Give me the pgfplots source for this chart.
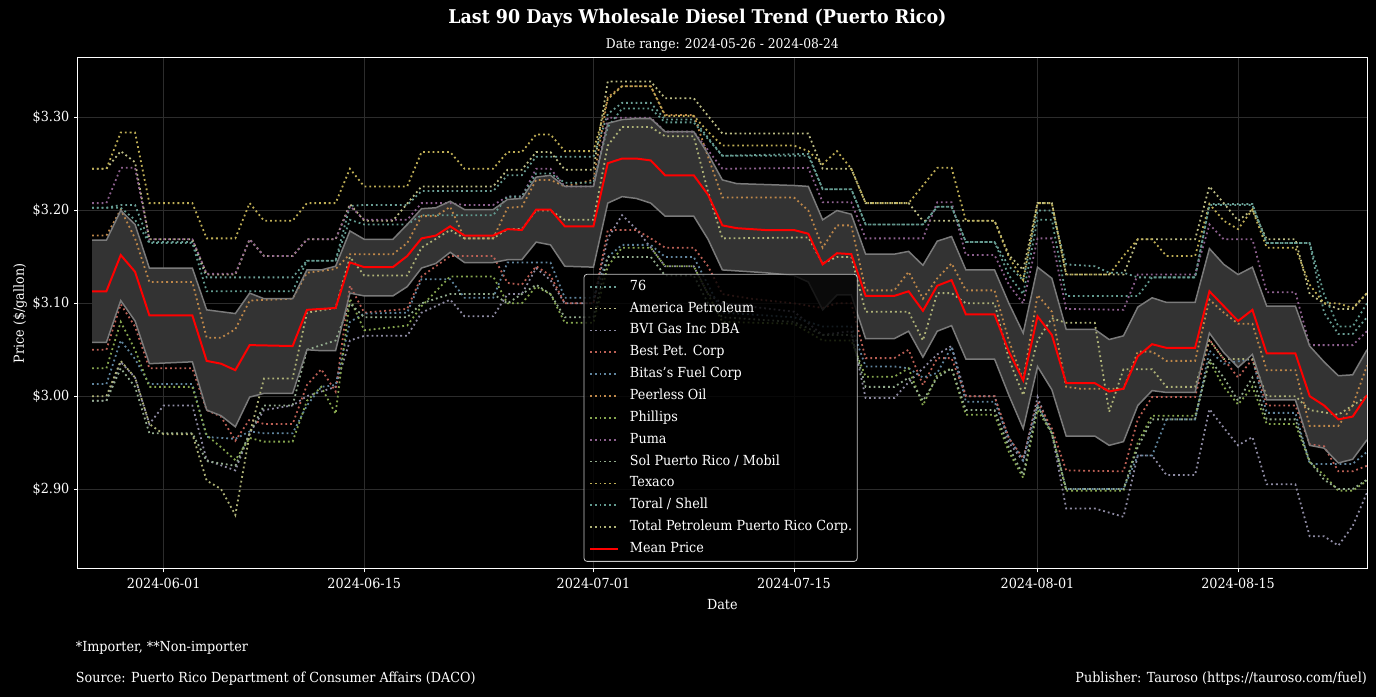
\documentclass[border=0pt]{standalone}
\usepackage{fontspec}
\setmainfont{DejaVu Serif}[FakeStretch=0.92]
\usepackage{pgfplots}
\pgfplotsset{compat=1.18}
\usepgfplotslibrary{fillbetween}

\definecolor{gridc}{HTML}{2C2C2C}
\definecolor{bandfill}{HTML}{333333}
\definecolor{bandedge}{HTML}{7A7A7A}
\definecolor{c76}{HTML}{6A9E95}
\definecolor{cAmer}{HTML}{BDBD85}
\definecolor{cBVI}{HTML}{8E8BA3}
\definecolor{cBest}{HTML}{BC6055}
\definecolor{cBitas}{HTML}{60859E}
\definecolor{cPeer}{HTML}{BE8749}
\definecolor{cPhil}{HTML}{86A64F}
\definecolor{cPuma}{HTML}{8D608E}
\definecolor{cSol}{HTML}{93AC8E}
\definecolor{cTex}{HTML}{BFAE55}
\definecolor{cToral}{HTML}{629A8F}
\definecolor{cTotal}{HTML}{AEB277}

\newcommand\tfont{\fontsize{13.9bp}{16bp}\selectfont}
\tikzset{dots/.style={line width=1.8bp, dash pattern=on 1.8bp off 3bp}}

\begin{document}
\pagecolor{black}
\begin{tikzpicture}[x=1bp,y=1bp]
\path (0,0) rectangle (1376,698);
\begin{axis}[
  at={(75bp,128bp)}, anchor=south west,
  width=1292bp, height=512bp, scale only axis,
  set layers,
  xmin=0, xmax=90, ymin=2.814, ymax=3.3645,
  axis line style={white, line width=1bp},
  grid=major, major grid style={gridc, line width=0.8bp},
  tick align=outside, xtick pos=lower, ytick pos=left,
  major tick length=3.5bp,
  tick style={white, line width=0.8bp},
  xtick={6,20,36,50,67,81},
  xticklabels={2024-06-01,2024-06-15,2024-07-01,2024-07-15,2024-08-01,2024-08-15},
  ytick={2.9,3.0,3.1,3.2,3.3},
  yticklabels={\$2.90,\$3.00,\$3.10,\$3.20,\$3.30},
  tick label style={text=white, font=\tfont},
  xticklabel style={yshift=-2.5bp},
  yticklabel style={xshift=-1.5bp},
  legend cell align=left,
  legend style={at={(0.3924,0.0137)}, anchor=south west,
    fill=black, fill opacity=0.8, text opacity=1, draw opacity=1,
    draw=white!78!black, line width=0.8bp, rounded corners=3bp,
    font=\tfont, text=white, inner xsep=5bp, inner ysep=3bp, row sep=3bp,
    nodes={inner xsep=0bp, inner ysep=2.5bp, text height=10.5bp, text depth=3.4bp},
    /tikz/every odd column/.append style={column sep=11bp}},
  legend image code/.code={\draw[#1] (0bp,0bp) -- (28bp,0bp);},
]
\addplot[dots, c76] coordinates {(1,3.203)(2,3.203)(3,3.206)(4,3.206)(5,3.166)(8,3.166)(9,3.128)(12,3.128)(15,3.128)(16,3.146)(18,3.146)(19,3.205)(20,3.206)(23,3.206)(24,3.221)(29,3.221)(30,3.238)(31,3.238)(32,3.258)(36,3.258)(37,3.304)(38,3.316)(40,3.316)(41,3.298)(43,3.298)(45,3.259)(51,3.261)(52,3.223)(54,3.223)(55,3.185)(59,3.185)(60,3.204)(61,3.204)(62,3.166)(64,3.166)(65,3.140)(66,3.125)(67,3.200)(68,3.200)(69,3.142)(71,3.140)(72,3.133)(73,3.133)(74,3.128)(78,3.128)(79,3.207)(82,3.207)(83,3.165)(86,3.165)(87,3.090)(88,3.067)(89,3.067)(90,3.085)};
\addlegendentry{76}
\addplot[dots, cAmer] coordinates {(1,3.245)(2,3.245)(3,3.264)(4,3.252)(5,3.169)(8,3.169)(9,3.131)(11,3.131)(12,3.169)(13,3.151)(15,3.151)(16,3.169)(18,3.169)(19,3.207)(20,3.189)(22,3.189)(24,3.226)(29,3.226)(30,3.244)(31,3.244)(32,3.263)(33,3.263)(34,3.244)(36,3.244)(37,3.339)(40,3.339)(41,3.321)(43,3.321)(44,3.302)(45,3.283)(51,3.283)(52,3.245)(54,3.245)(55,3.208)(58,3.208)(59,3.189)(64,3.189)(65,3.152)(66,3.136)(67,3.208)(68,3.208)(69,3.131)(73,3.131)(74,3.169)(78,3.169)(79,3.226)(80,3.208)(81,3.189)(82,3.201)(83,3.169)(85,3.169)(86,3.110)(87,3.100)(88,3.094)(89,3.094)(90,3.111)};
\addlegendentry{America Petroleum}
\addplot[dots, cBVI] coordinates {(1,2.995)(2,2.995)(3,3.037)(4,3.020)(5,2.970)(6,2.990)(8,2.990)(9,2.931)(11,2.920)(12,2.960)(13,2.985)(15,2.990)(16,3.000)(18,3.010)(19,3.060)(20,3.065)(23,3.065)(24,3.090)(26,3.104)(27,3.086)(29,3.086)(30,3.110)(31,3.110)(32,3.138)(33,3.125)(34,3.100)(36,3.100)(37,3.170)(38,3.195)(39,3.180)(40,3.160)(41,3.140)(43,3.140)(44,3.110)(45,3.100)(50,3.091)(52,3.066)(54,3.070)(55,2.998)(57,2.998)(58,3.015)(59,3.030)(60,3.045)(61,3.054)(62,3.000)(64,3.000)(65,2.950)(66,2.930)(67,2.999)(68,2.960)(69,2.879)(71,2.879)(73,2.870)(74,2.936)(75,2.936)(76,2.915)(78,2.915)(79,2.986)(80,2.966)(81,2.947)(82,2.956)(83,2.905)(85,2.905)(86,2.849)(87,2.849)(88,2.839)(89,2.860)(90,2.896)};
\addlegendentry{BVI Gas Inc DBA}
\addplot[dots, cBest] coordinates {(1,3.050)(2,3.050)(3,3.099)(4,3.075)(5,3.030)(8,3.030)(9,2.985)(10,2.978)(11,2.952)(12,2.975)(13,2.970)(15,2.970)(16,3.012)(17,3.029)(18,3.005)(19,3.119)(20,3.090)(23,3.094)(24,3.129)(26,3.151)(29,3.151)(30,3.122)(31,3.120)(32,3.140)(33,3.130)(34,3.100)(36,3.100)(37,3.179)(39,3.179)(40,3.170)(41,3.160)(43,3.160)(44,3.140)(45,3.110)(47,3.105)(50,3.100)(52,3.095)(53,3.100)(54,3.100)(55,3.041)(57,3.041)(58,3.050)(59,3.012)(60,3.041)(61,3.041)(62,3.000)(64,3.000)(65,2.955)(66,2.933)(67,2.994)(68,2.965)(69,2.920)(73,2.919)(74,2.975)(75,2.999)(78,2.999)(79,3.061)(80,3.040)(81,3.020)(82,3.040)(83,2.990)(85,2.990)(86,2.948)(87,2.946)(88,2.919)(89,2.919)(90,2.925)};
\addlegendentry{Best Pet. Corp}
\addplot[dots, cBitas] coordinates {(1,3.013)(2,3.013)(3,3.060)(4,3.040)(5,3.013)(8,3.013)(9,2.956)(11,2.954)(12,2.962)(13,2.960)(15,2.960)(16,2.990)(17,3.010)(18,3.012)(19,3.080)(20,3.089)(23,3.090)(24,3.126)(26,3.126)(27,3.106)(29,3.106)(30,3.144)(33,3.144)(34,3.106)(36,3.106)(37,3.150)(38,3.163)(40,3.163)(41,3.150)(43,3.150)(44,3.120)(45,3.090)(50,3.085)(52,3.075)(54,3.075)(55,3.032)(57,3.032)(58,3.030)(59,3.020)(60,3.025)(61,3.053)(62,2.994)(64,2.994)(65,2.955)(66,2.931)(67,2.990)(68,2.960)(69,2.900)(73,2.900)(74,2.936)(75,2.936)(76,2.975)(78,2.975)(79,3.049)(80,3.035)(82,3.040)(83,2.982)(85,2.982)(86,2.927)(89,2.927)(90,2.940)};
\addlegendentry{Bitas's Fuel Corp}
\addplot[dots, cPeer] coordinates {(1,3.173)(2,3.173)(3,3.201)(4,3.170)(5,3.123)(8,3.123)(9,3.063)(10,3.063)(11,3.072)(12,3.103)(15,3.105)(16,3.133)(18,3.137)(19,3.153)(22,3.153)(23,3.165)(24,3.194)(25,3.194)(26,3.204)(27,3.170)(29,3.170)(30,3.203)(31,3.204)(32,3.233)(33,3.233)(34,3.226)(36,3.233)(37,3.322)(38,3.334)(40,3.334)(41,3.303)(43,3.303)(44,3.258)(45,3.214)(50,3.214)(51,3.200)(52,3.160)(53,3.184)(54,3.184)(55,3.114)(57,3.114)(58,3.134)(59,3.105)(60,3.127)(61,3.143)(62,3.114)(64,3.114)(65,3.060)(66,3.017)(67,3.109)(68,3.091)(69,3.010)(70,3.008)(73,3.008)(74,3.048)(75,3.048)(76,3.038)(78,3.038)(79,3.104)(80,3.090)(81,3.078)(82,3.078)(83,3.028)(85,3.028)(86,2.968)(88,2.968)(89,2.990)(90,3.033)};
\addlegendentry{Peerless Oil}
\addplot[dots, cPhil] coordinates {(1,3.030)(2,3.030)(3,3.080)(4,3.050)(5,3.010)(8,3.010)(9,2.958)(10,2.945)(11,2.931)(12,2.955)(13,2.951)(15,2.951)(16,2.995)(17,3.010)(18,2.981)(19,3.105)(20,3.071)(23,3.076)(24,3.097)(26,3.129)(29,3.129)(30,3.100)(31,3.100)(32,3.118)(33,3.110)(34,3.079)(36,3.079)(37,3.140)(38,3.160)(40,3.160)(41,3.140)(43,3.140)(44,3.110)(45,3.080)(50,3.078)(52,3.060)(54,3.060)(55,3.021)(57,3.021)(58,3.030)(59,2.990)(60,3.023)(61,3.030)(62,2.980)(64,2.980)(65,2.940)(66,2.912)(67,2.985)(68,2.960)(69,2.898)(73,2.898)(74,2.950)(75,2.979)(78,2.979)(79,3.038)(80,3.010)(81,2.991)(82,3.010)(83,2.970)(85,2.970)(86,2.929)(87,2.915)(88,2.898)(89,2.898)(90,2.909)};
\addlegendentry{Phillips}
\addplot[dots, cPuma] coordinates {(1,3.208)(2,3.208)(3,3.246)(4,3.246)(5,3.169)(8,3.169)(9,3.132)(11,3.132)(12,3.169)(13,3.151)(15,3.151)(16,3.169)(18,3.169)(19,3.205)(20,3.190)(23,3.190)(24,3.208)(26,3.208)(27,3.206)(29,3.206)(30,3.215)(31,3.215)(32,3.245)(33,3.245)(34,3.226)(36,3.226)(37,3.300)(40,3.300)(41,3.285)(43,3.285)(44,3.265)(45,3.245)(51,3.246)(52,3.209)(54,3.209)(55,3.170)(59,3.170)(60,3.209)(61,3.209)(62,3.152)(64,3.152)(65,3.120)(66,3.100)(67,3.170)(68,3.170)(69,3.094)(73,3.093)(74,3.131)(78,3.131)(79,3.185)(80,3.169)(82,3.169)(83,3.112)(85,3.112)(86,3.055)(89,3.055)(90,3.070)};
\addlegendentry{Puma}
\addplot[dots, cSol] coordinates {(1,2.995)(2,2.995)(3,3.030)(4,3.010)(5,2.960)(8,2.960)(9,2.930)(11,2.925)(12,2.960)(13,2.990)(15,2.990)(16,3.050)(18,3.060)(19,3.100)(20,3.085)(23,3.085)(24,3.100)(26,3.110)(29,3.110)(30,3.100)(32,3.120)(33,3.110)(34,3.085)(36,3.085)(37,3.150)(40,3.150)(41,3.130)(43,3.130)(44,3.100)(45,3.085)(50,3.080)(52,3.066)(54,3.066)(55,3.010)(57,3.010)(58,3.020)(59,2.995)(60,3.020)(61,3.030)(62,2.985)(64,2.985)(65,2.945)(66,2.915)(67,2.990)(68,2.960)(69,2.900)(73,2.900)(74,2.945)(75,2.975)(78,2.975)(79,3.040)(80,3.020)(81,2.995)(82,3.020)(83,2.975)(85,2.975)(86,2.930)(87,2.910)(88,2.900)(89,2.900)(90,2.910)};
\addlegendentry{Sol Puerto Rico / Mobil}
\addplot[dots, cTex] coordinates {(1,3.245)(2,3.245)(3,3.284)(4,3.284)(5,3.208)(8,3.208)(9,3.170)(11,3.170)(12,3.208)(13,3.189)(15,3.189)(16,3.208)(18,3.208)(19,3.245)(20,3.226)(23,3.226)(24,3.263)(26,3.263)(27,3.245)(29,3.245)(30,3.263)(31,3.263)(32,3.282)(33,3.282)(34,3.264)(36,3.264)(37,3.320)(38,3.334)(40,3.334)(41,3.302)(43,3.302)(44,3.285)(45,3.270)(50,3.270)(51,3.264)(52,3.250)(53,3.264)(54,3.245)(55,3.208)(58,3.208)(59,3.227)(60,3.246)(61,3.246)(62,3.189)(64,3.189)(65,3.150)(66,3.125)(67,3.208)(68,3.208)(69,3.131)(72,3.131)(73,3.151)(74,3.169)(75,3.169)(76,3.151)(78,3.151)(79,3.207)(80,3.189)(81,3.180)(82,3.201)(83,3.160)(85,3.160)(86,3.120)(87,3.100)(88,3.100)(89,3.095)(90,3.111)};
\addlegendentry{Texaco}
\addplot[dots, cToral] coordinates {(1,3.203)(2,3.203)(3,3.203)(4,3.190)(5,3.165)(8,3.165)(9,3.113)(15,3.113)(16,3.146)(18,3.146)(19,3.190)(20,3.185)(23,3.185)(24,3.195)(29,3.195)(30,3.215)(31,3.215)(32,3.240)(33,3.240)(34,3.230)(36,3.230)(37,3.290)(38,3.310)(40,3.310)(41,3.295)(43,3.295)(45,3.259)(51,3.259)(52,3.223)(54,3.223)(55,3.185)(59,3.185)(60,3.204)(61,3.204)(62,3.166)(64,3.166)(65,3.130)(66,3.110)(67,3.190)(68,3.190)(69,3.108)(74,3.108)(75,3.128)(78,3.128)(79,3.206)(82,3.206)(83,3.165)(86,3.165)(87,3.110)(88,3.075)(89,3.075)(90,3.100)};
\addlegendentry{Toral / Shell}
\addplot[dots, cTotal] coordinates {(1,3.000)(2,3.000)(3,3.038)(4,3.020)(5,2.970)(6,2.959)(8,2.959)(9,2.909)(10,2.900)(11,2.872)(12,2.959)(13,3.019)(15,3.019)(16,3.090)(18,3.095)(19,3.150)(20,3.130)(23,3.130)(24,3.160)(26,3.179)(27,3.170)(29,3.170)(30,3.180)(31,3.180)(32,3.200)(33,3.200)(34,3.190)(36,3.190)(37,3.270)(38,3.290)(40,3.290)(41,3.280)(43,3.280)(44,3.220)(45,3.170)(51,3.171)(52,3.143)(53,3.150)(54,3.150)(55,3.091)(58,3.091)(59,3.060)(60,3.111)(61,3.111)(62,3.100)(64,3.100)(65,3.040)(66,3.001)(67,3.060)(68,3.084)(69,3.079)(71,3.079)(72,2.983)(73,3.029)(75,3.029)(76,3.010)(78,3.010)(79,3.060)(80,3.040)(82,3.040)(83,3.000)(85,3.000)(86,2.985)(88,2.980)(89,2.990)(90,3.000)};
\addlegendentry{Total Petroleum Puerto Rico Corp.}
\addplot[name path=up, bandedge, line width=1.5bp, forget plot] coordinates {(1,3.168)(2,3.168)(3,3.200)(4,3.185)(5,3.138)(8,3.138)(9,3.093)(10,3.091)(11,3.089)(12,3.111)(13,3.105)(15,3.105)(16,3.136)(17,3.136)(18,3.140)(19,3.178)(20,3.169)(22,3.169)(23,3.185)(24,3.202)(25,3.203)(26,3.210)(27,3.201)(29,3.201)(30,3.212)(31,3.213)(32,3.236)(33,3.238)(34,3.226)(36,3.226)(37,3.294)(38,3.298)(39,3.299)(40,3.299)(41,3.285)(43,3.285)(44,3.261)(45,3.233)(46,3.229)(48,3.228)(50,3.227)(51,3.226)(52,3.190)(53,3.200)(54,3.196)(55,3.153)(57,3.153)(58,3.156)(59,3.141)(60,3.167)(61,3.172)(62,3.136)(64,3.136)(65,3.100)(66,3.068)(67,3.139)(68,3.127)(69,3.072)(71,3.072)(72,3.061)(73,3.065)(74,3.096)(75,3.106)(76,3.101)(78,3.101)(79,3.159)(80,3.142)(81,3.131)(82,3.139)(83,3.097)(85,3.097)(86,3.054)(87,3.037)(88,3.022)(89,3.023)(90,3.050)};
\addplot[name path=lo, bandedge, line width=1.5bp, forget plot] coordinates {(1,3.058)(2,3.058)(3,3.103)(4,3.081)(5,3.035)(8,3.037)(9,2.985)(10,2.979)(11,2.967)(12,2.999)(13,3.003)(15,3.003)(16,3.050)(17,3.049)(18,3.049)(19,3.111)(20,3.108)(22,3.108)(23,3.118)(24,3.138)(25,3.143)(26,3.155)(27,3.144)(29,3.144)(30,3.147)(31,3.147)(32,3.166)(33,3.163)(34,3.140)(36,3.139)(37,3.208)(38,3.215)(39,3.213)(40,3.208)(41,3.194)(43,3.194)(44,3.169)(45,3.136)(46,3.135)(48,3.133)(50,3.130)(51,3.123)(52,3.093)(53,3.109)(54,3.109)(55,3.062)(57,3.062)(58,3.070)(59,3.042)(60,3.070)(61,3.076)(62,3.040)(64,3.040)(65,3.001)(66,2.965)(67,3.032)(68,3.007)(69,2.957)(71,2.957)(72,2.947)(73,2.951)(74,2.990)(75,3.006)(76,3.004)(78,3.004)(79,3.068)(80,3.047)(81,3.031)(82,3.045)(83,2.996)(85,2.996)(86,2.947)(87,2.944)(88,2.928)(89,2.932)(90,2.953)};
\addplot[bandfill, forget plot] fill between[of=up and lo];
\addplot[red, line width=2bp] coordinates {(1,3.113)(2,3.113)(3,3.152)(4,3.134)(5,3.087)(8,3.087)(9,3.038)(10,3.035)(11,3.028)(12,3.055)(15,3.054)(16,3.093)(17,3.094)(18,3.095)(19,3.144)(20,3.139)(22,3.139)(23,3.151)(24,3.170)(25,3.173)(26,3.183)(27,3.173)(29,3.173)(30,3.180)(31,3.179)(32,3.201)(33,3.201)(34,3.183)(36,3.183)(37,3.251)(38,3.256)(39,3.256)(40,3.254)(41,3.238)(43,3.238)(44,3.217)(45,3.184)(46,3.181)(48,3.179)(50,3.179)(51,3.175)(52,3.142)(53,3.154)(54,3.153)(55,3.108)(57,3.108)(58,3.113)(59,3.092)(60,3.119)(61,3.125)(62,3.088)(64,3.088)(65,3.048)(66,3.017)(67,3.086)(68,3.066)(69,3.014)(71,3.014)(72,3.005)(73,3.008)(74,3.043)(75,3.056)(76,3.052)(78,3.052)(79,3.113)(80,3.097)(81,3.081)(82,3.093)(83,3.046)(85,3.046)(86,3.000)(87,2.990)(88,2.975)(89,2.978)(90,3.001)};
\addlegendentry{Mean Price}
\end{axis}
\node[anchor=base, text=white, font=\fontsize{19bp}{22bp}\selectfont\bfseries] at (696,674) {Last 90 Days Wholesale Diesel Trend (Puerto Rico)};
\node[anchor=base, text=white, font=\fontsize{13.4bp}{16bp}\selectfont] at (721,649) {Date range: 2024-05-26 - 2024-08-24};
\node[anchor=base, text=white, font=\tfont] at (721,87) {Date};
\node[anchor=base, text=white, font=\tfont, rotate=90] at (21,384) {Price (\$/gallon)};
\node[anchor=base west, text=white, font=\tfont, inner sep=0pt] at (73,45) {*Importer, **Non-importer};
\node[anchor=base west, text=white, font=\tfont, inner sep=0pt] at (73,14) {Source: Puerto Rico Department of Consumer Affairs (DACO)};
\node[anchor=base east, text=white, font=\tfont, inner sep=0pt] at (1367,14) {Publisher: Tauroso (https://tauroso.com/fuel)};
\pgfresetboundingbox
\path (0,0) rectangle (1376,698);
\end{tikzpicture}
\end{document}
